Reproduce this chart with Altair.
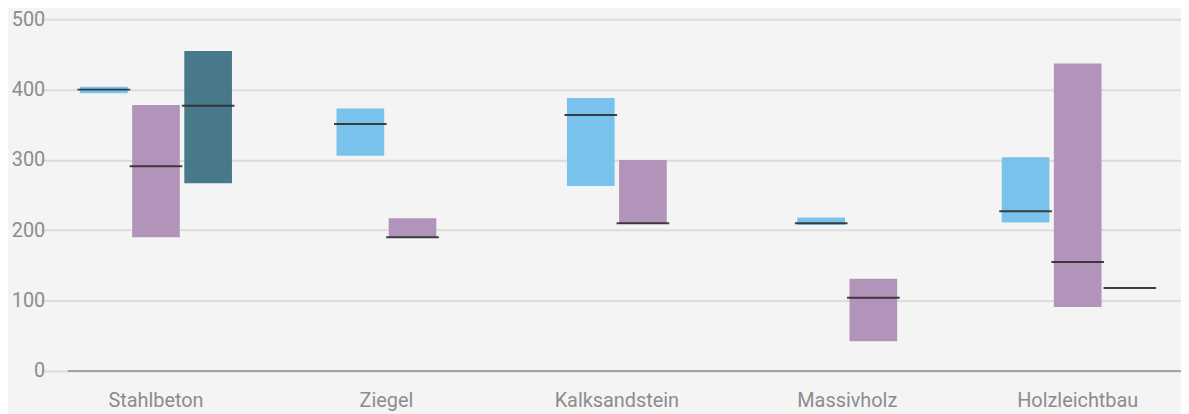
import altair as alt
import pandas as pd

# ---- data ----
category_order = ["Stahlbeton", "Ziegel", "Kalksandstein", "Massivholz", "Holzleichtbau"]
categories = ["Stahlbeton", "Stahlbeton", "Stahlbeton",
              "Ziegel", "Ziegel",
              "Kalksandstein", "Kalksandstein",
              "Massivholz", "Massivholz",
              "Holzleichtbau", "Holzleichtbau", "Holzleichtbau"]
series = ["S1", "S2", "S3", "S1", "S2", "S1", "S2", "S1", "S2", "S1", "S2", "S3"]
low = [395, 190, 267, 306, 189, 263, 209, 208, 42, 211, 91, 117.5]
high = [404, 378, 455, 373, 217, 388, 300, 218, 131, 304, 437, 118.5]
median = [400, 291, 377, 351, 190, 364, 210, 210, 104, 227, 155, 118]
series_names = ["S1", "S2", "S3"]
series_colors = ["#79C2EB", "#B293BA", "#47798B"]
y_ticks = [0, 100, 200, 300, 400, 500]

df = pd.DataFrame({"cat": categories, "series": series,
                   "low": low, "high": high, "median": median})
# slot of each bar inside its category group (centred on the category)
cnt = df.groupby("cat")["cat"].transform("count")
df["slot"] = df.groupby("cat").cumcount() - (cnt - 1) / 2

FONT = "Roboto"
LABEL_COLOR = "#8C8C8C"
X_RANGE = [-27, 1133]
HALF_BAND = (X_RANGE[1] - X_RANGE[0]) / len(category_order) / 2
STEP = 52.5

x_enc = alt.X("cat:N", sort=category_order,
              scale=alt.Scale(range=X_RANGE, paddingInner=0, paddingOuter=0),
              axis=alt.Axis(title=None, labelAngle=0, domain=False, ticks=False,
                            tickSize=0, grid=False, labelPadding=20,
                            labelFontSize=20, labelColor=LABEL_COLOR, labelFont=FONT))
off_enc = alt.XOffset("slot:Q", scale=alt.Scale(domain=[-1, 1],
                                                range=[HALF_BAND - STEP, HALF_BAND + STEP]))
y_scale = alt.Scale(domain=[0, 500], nice=False)

base = alt.Chart(df)

bars = base.mark_bar(width=48).encode(
    x=x_enc,
    xOffset=off_enc,
    y=alt.Y("low:Q", scale=y_scale,
            axis=alt.Axis(title=None, values=y_ticks, domain=False, ticks=False,
                          tickSize=0, grid=True, gridColor="#DCDCDC", gridWidth=2,
                          labelPadding=23, labelFontSize=20, labelColor=LABEL_COLOR,
                          labelFont=FONT)),
    y2="high:Q",
    color=alt.Color("series:N", scale=alt.Scale(domain=series_names, range=series_colors),
                    legend=None),
)

ticks = base.mark_tick(size=53, thickness=2, color="#2E2E2E", opacity=0.9).encode(
    x=alt.X("cat:N", sort=category_order),
    xOffset=off_enc,
    y=alt.Y("median:Q", scale=y_scale),
)

zero = alt.Chart(pd.DataFrame({"v": [0]})).mark_rule(color="#8E8E8E", strokeWidth=1.5).encode(
    y=alt.Y("v:Q", scale=y_scale)
)

chart = alt.layer(bars, zero, ticks).properties(
    width=1121, height=354,
    autosize=alt.AutoSizeParams(type="none"),
    padding={"left": 60, "top": 10, "right": 0, "bottom": 42},
    background="#F4F4F4",
).configure_view(stroke=None, fill="#F4F4F4")

chart.save("out.html", embed_options={"renderer": "svg", "actions": False})
